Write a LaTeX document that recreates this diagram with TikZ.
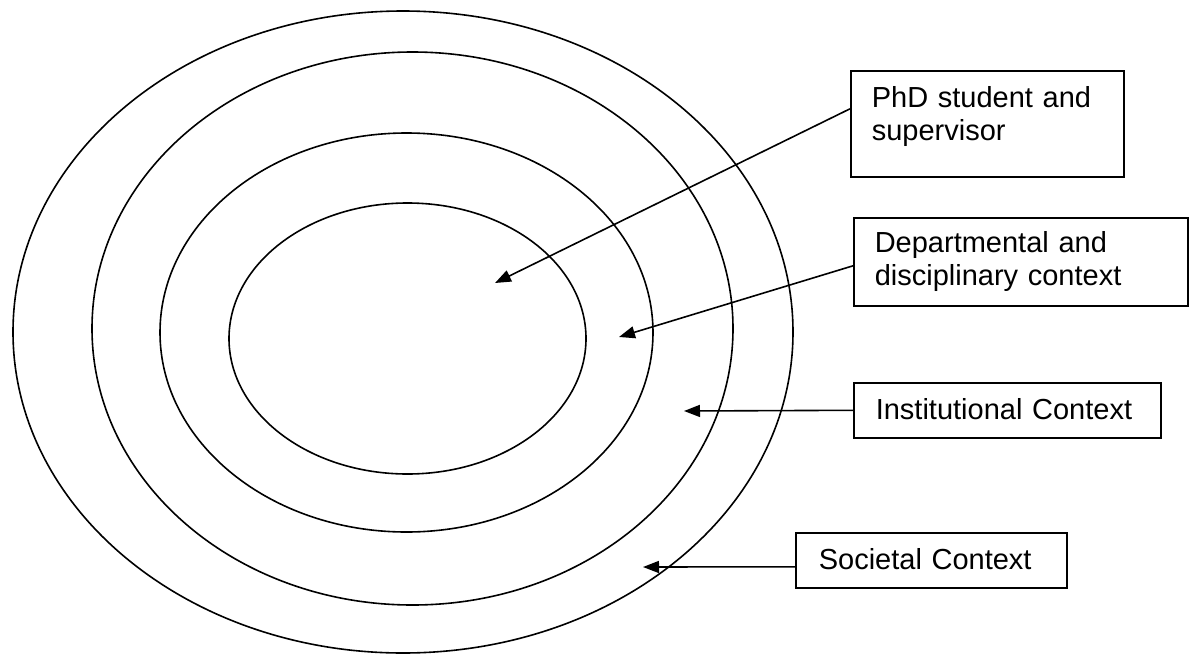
\documentclass[tikz,border=0pt]{standalone}
\usepackage{fontspec}
\setmainfont{Liberation Sans}
\usetikzlibrary{arrows.meta}

\begin{document}
\begin{tikzpicture}[x=0.5pt,y=-0.5pt,
  ctxbox/.style={draw,line width=0.8pt,align=left,anchor=north west,inner ysep=0pt,
    font=\fontsize{14.5pt}{16.5pt}\selectfont},
  ctxarrow/.style={-{Triangle[length=8pt,width=6pt]},line width=0.8pt}]

  % keep the page as large as the picture
  \useasboundingbox (0,0) rectangle (1190,654);

  % nested contexts, outer to inner
  \foreach \cx/\cy/\rx/\ry in {403/332/195/160.5, 412.5/328.5/160.25/138.25,
                               406.5/332.5/123.25/99.75, 407.5/338.5/89.25/67.75}
    \draw [line width=0.8pt] (\cx,\cy) ellipse [x radius=\rx pt, y radius=\ry pt];

  % label boxes
  \node [ctxbox,inner xsep=10.5pt,text width=115.5pt,text height=18.5pt,text depth=34.5pt]
    (phd) at (850,70) {PhD student and\\supervisor};
  \node [ctxbox,inner xsep=10.5pt,text width=146pt,text height=17.5pt,text depth=26.5pt]
    (dept) at (853,217) {Departmental and\\disciplinary context};
  \node [ctxbox,inner xsep=11pt,text width=131.5pt,text height=18.5pt,text depth=9pt]
    (inst) at (853,382) {Institutional Context};
  \node [ctxbox,inner xsep=11.5pt,text width=112.5pt,text height=18.5pt,text depth=9pt]
    (soc) at (795,532) {Societal Context};

  % arrow tips inside the rings
  \coordinate (phdtip) at (495,283);
  \coordinate (depttip) at (619,337);
  \coordinate (insttip) at (684,411);
  \coordinate (soctip) at (643,567);

  % arrows from the boxes
  \draw [ctxarrow] ([yshift=7.5pt]phd.west) -- (phdtip);
  \draw [ctxarrow] ([yshift=-2pt]dept.west) -- (depttip);
  \draw [ctxarrow] (inst.west) -- (insttip);
  \draw [ctxarrow] ([yshift=-3.25pt]soc.west) -- (soctip);

\end{tikzpicture}
\end{document}
